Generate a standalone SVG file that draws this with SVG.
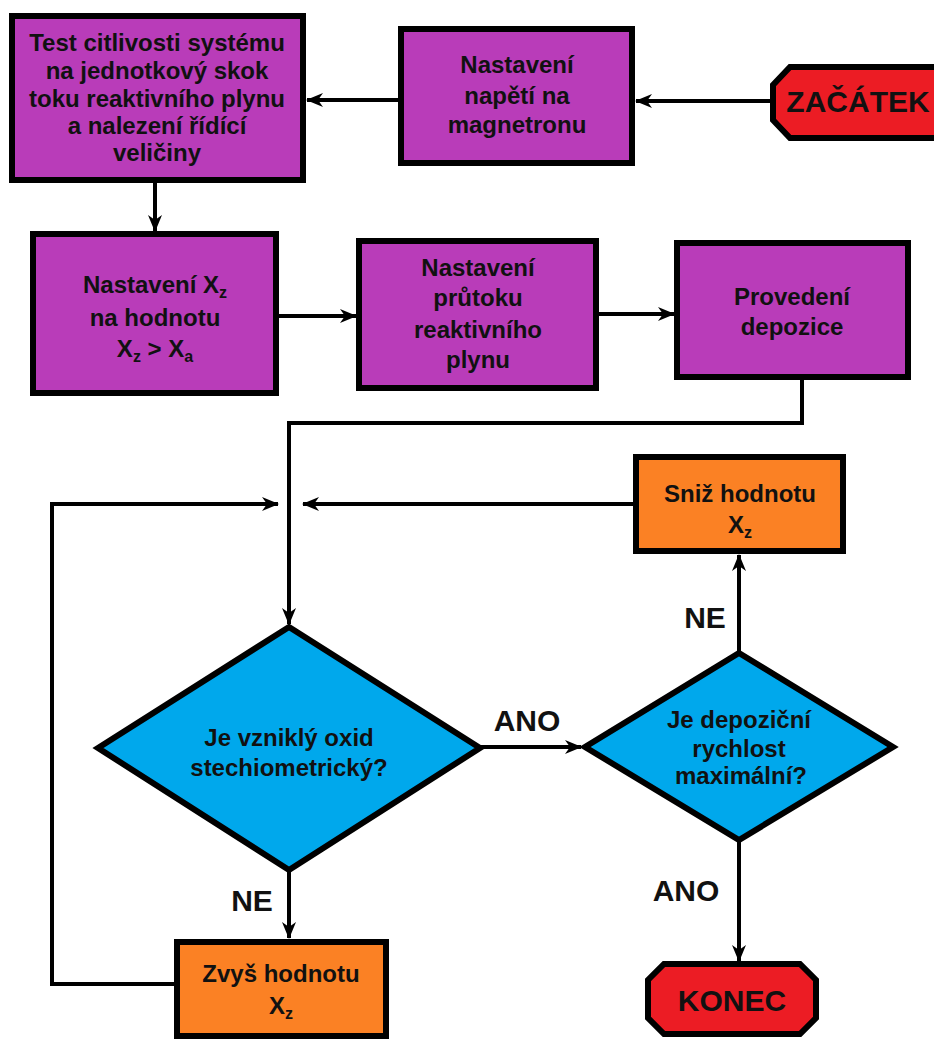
<svg xmlns="http://www.w3.org/2000/svg" width="934" height="1039" viewBox="0 0 934 1039">
<defs>
<marker id="ah" markerWidth="17" markerHeight="14" viewBox="0 0 17 14" refX="16" refY="7" orient="auto" markerUnits="userSpaceOnUse">
<path d="M0,0 L17,7 L0,14 L5,7 Z" fill="#000"/>
</marker>
<style>
.box{stroke:#000;stroke-width:6}
.pur{fill:#b93cb9}
.org{fill:#fb8124}
.blu{fill:#00a8ec}
.red{fill:#ec1c24}
.t{font-family:"Liberation Sans",Arial,sans-serif;font-weight:bold;fill:#111;text-anchor:middle}
.m{font-size:24px}
.s{font-size:24px}
.l{font-size:30px}
.b{font-size:30px}
.c{fill:none;stroke:#000;stroke-width:4}
.sub{font-size:16px}
</style>
</defs>
<g id="connectors">
<path class="c" d="M772,101 L636,101" marker-end="url(#ah)"/>
<path class="c" d="M399,100 L307,100" marker-end="url(#ah)"/>
<path class="c" d="M155,183 L155,231" marker-end="url(#ah)"/>
<path class="c" d="M278,316 L356,316" marker-end="url(#ah)"/>
<path class="c" d="M598,314 L674,314" marker-end="url(#ah)"/>
<path class="c" d="M802,379 L802,423 L289,423 L289,624" marker-end="url(#ah)"/>
<path class="c" d="M634,504 L303,504" marker-end="url(#ah)"/>
<path class="c" d="M175,984 L52,984 L52,504 L278,504" marker-end="url(#ah)"/>
<path class="c" d="M480,747 L581,747" marker-end="url(#ah)"/>
<path class="c" d="M739,653 L739,555" marker-end="url(#ah)"/>
<path class="c" d="M739,840 L739,961" marker-end="url(#ah)"/>
<path class="c" d="M289,870 L289,938" marker-end="url(#ah)"/>
<text class="t l" x="527" y="731">ANO</text>
<text class="t l" x="705" y="628">NE</text>
<text class="t l" x="686" y="901">ANO</text>
<text class="t l" x="252" y="911">NE</text>
</g>
<g id="start">
<polygon class="box red" points="790,67 940,67 958,85 958,120 940,138 790,138 773,120 773,85"/>
<text class="t b" x="858" y="112">ZAČÁTEK</text>
</g>
<g id="napeti">
<rect class="box pur" x="401" y="29" width="231" height="134"/>
<text class="t m" x="517" y="73">Nastavení</text>
<text class="t m" x="517" y="104">napětí na</text>
<text class="t m" x="517" y="133">magnetronu</text>
</g>
<g id="test">
<rect class="box pur" x="12" y="16" width="291" height="164"/>
<text class="t m" x="157" y="51">Test citlivosti systému</text>
<text class="t m" x="157" y="79">na jednotkový skok</text>
<text class="t m" x="157" y="107">toku reaktivního plynu</text>
<text class="t m" x="157" y="134">a nalezení řídící</text>
<text class="t m" x="157" y="161">veličiny</text>
</g>
<g id="nastXz">
<rect class="box pur" x="33" y="234" width="243" height="159"/>
<text class="t m" x="155" y="293">Nastavení X<tspan class="sub" dy="5">z</tspan></text>
<text class="t m" x="155" y="326">na hodnotu</text>
<text class="t m" x="155" y="357">X<tspan class="sub" dy="5">z</tspan><tspan dy="-5"> &gt; X</tspan><tspan class="sub" dy="5">a</tspan></text>
</g>
<g id="prutok">
<rect class="box pur" x="359" y="241" width="237" height="147"/>
<text class="t m" x="478" y="276">Nastavení</text>
<text class="t m" x="478" y="306">průtoku</text>
<text class="t m" x="478" y="338">reaktivního</text>
<text class="t m" x="478" y="368">plynu</text>
</g>
<g id="depozice">
<rect class="box pur" x="677" y="243" width="231" height="134"/>
<text class="t m" x="792" y="305">Provedení</text>
<text class="t m" x="792" y="335">depozice</text>
</g>
<g id="sniz">
<rect class="box org" x="636" y="457" width="207" height="94"/>
<text class="t m" x="740" y="502">Sniž hodnotu</text>
<text class="t m" x="740" y="533">X<tspan class="sub" dy="5">z</tspan></text>
</g>
<g id="oxid">
<polygon class="box blu" points="289,627 480,748 289,870 98,748"/>
<text class="t s" x="289" y="746">Je vzniklý oxid</text>
<text class="t s" x="289" y="776">stechiometrický?</text>
</g>
<g id="rychlost">
<polygon class="box blu" points="739,653 893,747 739,840 585,747"/>
<text class="t s" x="739" y="728">Je depoziční</text>
<text class="t s" x="739" y="757">rychlost</text>
<text class="t s" x="741" y="784">maximální?</text>
</g>
<g id="zvys">
<rect class="box org" x="177" y="942" width="209" height="94"/>
<text class="t m" x="281" y="982">Zvyš hodnotu</text>
<text class="t m" x="281" y="1014">X<tspan class="sub" dy="5">z</tspan></text>
</g>
<g id="konec">
<polygon class="box red" points="664,964 800,964 816,980 816,1018 800,1034 664,1034 648,1018 648,980"/>
<text class="t b" x="732" y="1011">KONEC</text>
</g>
</svg>
